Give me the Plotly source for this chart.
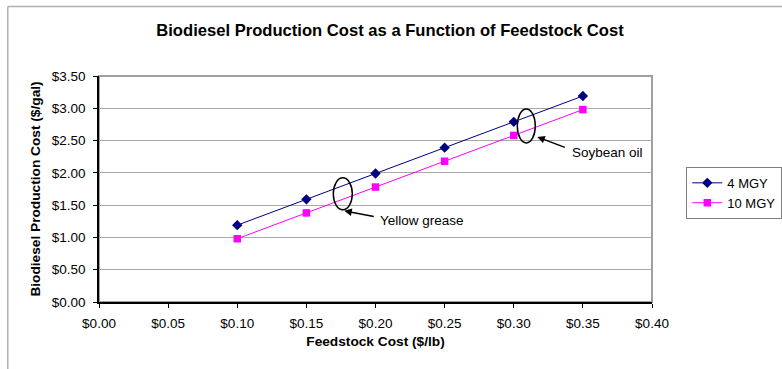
import plotly.graph_objects as go

feedstock = [0.10, 0.15, 0.20, 0.25, 0.30, 0.35]
mgy4 = [1.19, 1.59, 1.99, 2.39, 2.79, 3.19]
mgy10 = [0.98, 1.38, 1.78, 2.18, 2.58, 2.98]
x_ticks = [0, 0.05, 0.1, 0.15, 0.2, 0.25, 0.3, 0.35, 0.4]
y_ticks = [0, 0.5, 1, 1.5, 2, 2.5, 3, 3.5]

FONT = "Arial, Liberation Sans, sans-serif"
W, H = 782, 369
# plot area in page pixels
L, R, T, B = 98.7, 651.7, 76, 302.3
XMAX, YMAX = 0.4, 3.5

def dx(px):
    return (px - L) / (R - L) * XMAX

def dy(py):
    return (B - py) / (B - T) * YMAX

def ppx(px):
    return (px - L) / (R - L)

def ppy(py):
    return (B - py) / (B - T)

fig = go.Figure()
fig.add_trace(go.Scatter(x=feedstock, y=mgy4, name="4 MGY", mode="lines+markers",
                         line=dict(color="#000080", width=1),
                         marker=dict(symbol="diamond", size=8, color="#000080")))
fig.add_trace(go.Scatter(x=feedstock, y=mgy10, name="10 MGY", mode="lines+markers",
                         line=dict(color="#FF00FF", width=1),
                         marker=dict(symbol="square", size=7.5, color="#FF00FF")))

shapes = [
    dict(type="rect", xref="paper", yref="paper", x0=0, y0=0, x1=1, y1=1,
         line=dict(color="#a0a0a0", width=2), layer="below"),
    dict(type="line", xref="paper", yref="paper", x0=ppx(7.5), y0=ppy(6.5), x1=ppx(800), y1=ppy(6.5),
         line=dict(color="#b0b0b0", width=1.5)),
    dict(type="line", xref="paper", yref="paper", x0=ppx(7.5), y0=ppy(6.5), x1=ppx(7.5), y1=ppy(400),
         line=dict(color="#b0b0b0", width=1.5)),
    dict(type="circle", xref="x", yref="y", x0=dx(333), x1=dx(352), y0=dy(210), y1=dy(178),
         line=dict(color="black", width=1.5)),
    dict(type="circle", xref="x", yref="y", x0=dx(517), x1=dx(535), y0=dy(143), y1=dy(109),
         line=dict(color="black", width=1.5)),
]

annotations = [
    dict(x=dx(344), y=dy(211), ax=31, ay=6, text="", showarrow=True, arrowhead=2,
         arrowsize=1, arrowwidth=1.5, arrowcolor="black", xref="x", yref="y"),
    dict(x=dx(378), y=dy(221), text="Yellow grease", showarrow=False, xanchor="left",
         yanchor="middle", font=dict(family=FONT, size=13.5, color="black"), xref="x", yref="y"),
    dict(x=dx(537), y=dy(137), ax=29, ay=11, text="", showarrow=True, arrowhead=2,
         arrowsize=1, arrowwidth=1.5, arrowcolor="black", xref="x", yref="y"),
    dict(x=dx(570), y=dy(153), text="Soybean oil", showarrow=False, xanchor="left",
         yanchor="middle", font=dict(family=FONT, size=13.5, color="black"), xref="x", yref="y"),
]

fig.update_layout(
    width=W, height=H,
    margin=dict(l=L, r=W - R, t=T, b=H - B, pad=0, autoexpand=False),
    paper_bgcolor="white", plot_bgcolor="white",
    font=dict(family=FONT, size=13.5, color="black"),
    title=dict(text="<b>Biodiesel Production Cost as a Function of Feedstock Cost</b>",
               x=390 / W, xanchor="center", y=1 - 30 / H, yanchor="middle",
               xref="container", yref="container", automargin=False,
               font=dict(family=FONT, size=16.6, color="black")),
    xaxis=dict(range=[0, XMAX], tickvals=x_ticks, automargin=False,
               tickformat="$.2f", showgrid=False, zeroline=False,
               showline=True, linecolor="black", linewidth=1.5,
               ticks="outside", ticklen=4, tickcolor="black", ticklabelstandoff=4,
               tickfont=dict(family=FONT, size=13.5),
               title=dict(text="<b>Feedstock Cost ($/lb)</b>", standoff=6,
                          font=dict(family=FONT, size=13.7))),
    yaxis=dict(range=[0, YMAX], tickvals=y_ticks, automargin=False,
               tickformat="$.2f", showgrid=True, gridcolor="#a8a8a8", gridwidth=1,
               zeroline=False, showline=True, linecolor="black", linewidth=1.5,
               ticks="outside", ticklen=4, tickcolor="black", ticklabelstandoff=5,
               tickfont=dict(family=FONT, size=13.5),
               title=dict(text="<b>Biodiesel Production Cost ($/gal)</b>", standoff=8,
                          font=dict(family=FONT, size=13.7))),
    legend=dict(x=ppx(686), y=ppy(167), xanchor="left", yanchor="top",
                bordercolor="#808080", borderwidth=1, bgcolor="white",
                font=dict(family=FONT, size=13), tracegroupgap=2, itemwidth=30),
    shapes=shapes, annotations=annotations,
)

fig.write_html("out.html", config={"displayModeBar": False},
               post_script="document.body.style.margin='0';document.body.style.padding='0';")
